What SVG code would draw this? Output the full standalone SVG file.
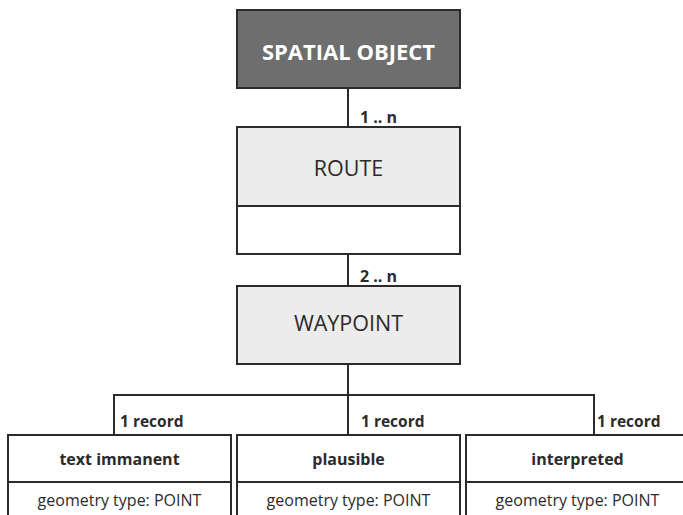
<svg xmlns="http://www.w3.org/2000/svg" width="683" height="515" viewBox="0 0 683 515">
<style>
.box{stroke:#2b2b2b;stroke-width:2}
.conn{stroke:#2b2b2b;stroke-width:2;fill:none}
.t{font-family:"Open Sans","Noto Sans",sans-serif;fill:#2b2b2b;text-anchor:middle}
.lbl{font-family:"Open Sans","Noto Sans",sans-serif;font-weight:bold;font-size:15.5px;fill:#2b2b2b}
</style>
<rect width="683" height="515" fill="#ffffff"/>
<g id="connectors">
<line class="conn" x1="348" y1="88" x2="348" y2="127"/>
<line class="conn" x1="348" y1="254" x2="348" y2="286"/>
<line class="conn" x1="348" y1="364" x2="348" y2="435"/>
<polyline class="conn" points="114,435 114,395 594,395 594,435"/>
<text class="lbl" x="360" y="123" style="font-size:16px">1 .. n</text>
<text class="lbl" x="360" y="282" style="font-size:16px">2 .. n</text>
<text class="lbl" x="120" y="427">1 record</text>
<text class="lbl" x="361" y="427">1 record</text>
<text class="lbl" x="597" y="427">1 record</text>
</g>
<g id="spatial-object">
<rect class="box" x="237" y="10" width="223" height="78" fill="#6e6e6e"/>
<text class="t" x="348.5" y="60" font-size="22" font-weight="bold" style="fill:#ffffff">SPATIAL OBJECT</text>
</g>
<g id="route">
<rect class="box" x="237" y="127" width="223" height="79" fill="#ececec"/>
<rect class="box" x="237" y="206" width="223" height="48" fill="#ffffff"/>
<text class="t" x="348.5" y="176" font-size="21.5">ROUTE</text>
</g>
<g id="waypoint">
<rect class="box" x="237" y="286" width="223" height="78" fill="#ececec"/>
<text class="t" x="348.5" y="331" font-size="21.5">WAYPOINT</text>
</g>
<g id="text-immanent">
<rect class="box" x="8" y="435" width="223" height="47" fill="#ffffff"/>
<rect class="box" x="8" y="482" width="223" height="40" fill="#ffffff"/>
<text class="t" x="119.5" y="465" font-size="16" font-weight="bold">text immanent</text>
<text class="t" x="119.5" y="506" font-size="16">geometry type: POINT</text>
</g>
<g id="plausible">
<rect class="box" x="237" y="435" width="223" height="47" fill="#ffffff"/>
<rect class="box" x="237" y="482" width="223" height="40" fill="#ffffff"/>
<text class="t" x="348.5" y="465" font-size="16" font-weight="bold">plausible</text>
<text class="t" x="348.5" y="506" font-size="16">geometry type: POINT</text>
</g>
<g id="interpreted">
<rect class="box" x="466" y="435" width="223" height="47" fill="#ffffff"/>
<rect class="box" x="466" y="482" width="223" height="40" fill="#ffffff"/>
<text class="t" x="577.5" y="465" font-size="16" font-weight="bold">interpreted</text>
<text class="t" x="577.5" y="506" font-size="16">geometry type: POINT</text>
</g>
</svg>
